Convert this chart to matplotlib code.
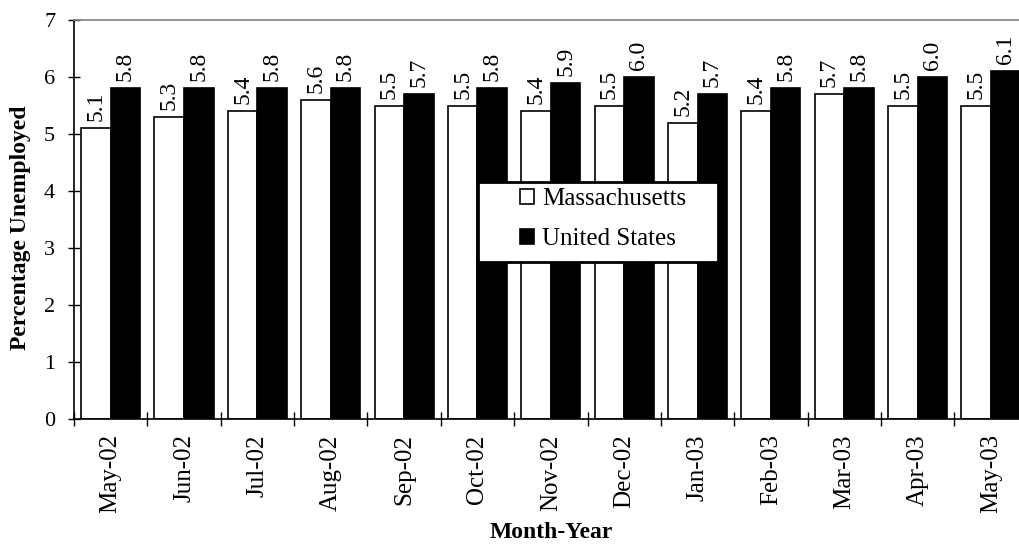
import matplotlib
matplotlib.use("Agg")
import matplotlib.pyplot as plt
import numpy as np
from matplotlib.ticker import FixedLocator
from matplotlib.patches import Rectangle

plt.rcParams['font.family'] = ['Liberation Serif', 'DejaVu Serif']

months = ["May-02", "Jun-02", "Jul-02", "Aug-02", "Sep-02", "Oct-02", "Nov-02",
          "Dec-02", "Jan-03", "Feb-03", "Mar-03", "Apr-03", "May-03"]
massachusetts = [5.1, 5.3, 5.4, 5.6, 5.5, 5.5, 5.4, 5.5, 5.2, 5.4, 5.7, 5.5, 5.5]
united_states = [5.8, 5.8, 5.8, 5.8, 5.7, 5.8, 5.9, 6.0, 5.7, 5.8, 5.8, 6.0, 6.1]

W, H = 1020, 544
fig = plt.figure(figsize=(W / 100, H / 100), dpi=100)
ax_left, ax_right, ax_top, ax_bot = 74, 74 + 13 * 73.36, 20, 419
ax = fig.add_axes([ax_left / W, (H - ax_bot) / H, (ax_right - ax_left) / W, (ax_bot - ax_top) / H])

x = np.arange(len(months))
bw = 0.403
b1 = ax.bar(x - bw / 2, massachusetts, width=bw, color="white", edgecolor="black",
            linewidth=1.2, label="Massachusetts", zorder=2)
b2 = ax.bar(x + bw / 2, united_states, width=bw, color="black", edgecolor="black",
            linewidth=1.2, label="United States", zorder=2)

for bars, vals in ((b1, massachusetts), (b2, united_states)):
    for r, v in zip(bars, vals):
        ax.annotate(f"{v:.1f}", (r.get_x() + r.get_width() / 2, r.get_height()),
                    xytext=(0, 5), textcoords="offset points", rotation=90,
                    ha="center", va="bottom", fontsize=17)

ax.set_xlim(-0.5, len(months) - 0.5)
ax.set_ylim(0, 7)
ax.set_yticks(range(0, 8))
ax.tick_params(axis="y", direction="inout", length=9, width=1, labelsize=16, pad=9)
ax.set_xticks(x)
ax.set_xticklabels(months, rotation=90, fontsize=18)
ax.tick_params(axis="x", which="major", length=0, pad=11)
ax.xaxis.set_minor_locator(FixedLocator(np.arange(-0.5, len(months), 1.0)))
ax.tick_params(axis="x", which="minor", direction="inout", length=10, width=1)

ax.spines["right"].set_visible(False)
ax.spines["top"].set_color("#808080")
ax.spines["top"].set_linewidth(1.2)
ax.spines["left"].set_linewidth(1.2)
ax.spines["bottom"].set_linewidth(1.2)

ax.set_ylabel("Percentage Unemployed", fontsize=17, fontweight="bold")
ax.yaxis.set_label_coords(-0.045, 0.48)
ax.set_xlabel("Month-Year", fontsize=17, fontweight="bold")
ax.xaxis.set_label_coords(0.5, -0.258)

# legend box
box = Rectangle((478 / W, 1 - 262 / H), 240 / W, 80 / H, transform=fig.transFigure,
                facecolor="white", edgecolor="black", linewidth=2, zorder=3)
fig.patches.append(box)
leg = fig.legend(handles=[b1, b2], labels=["Massachusetts", "United States"],
                 loc="upper left", bbox_to_anchor=(520 / W, 1 - 188 / H),
                 bbox_transform=fig.transFigure, fontsize=18, frameon=False,
                 handlelength=0.55, handleheight=0.55, handletextpad=0.35,
                 borderpad=0, labelspacing=0.73, borderaxespad=0)
leg.set_zorder(5)

fig.savefig("out.png", dpi=100)
